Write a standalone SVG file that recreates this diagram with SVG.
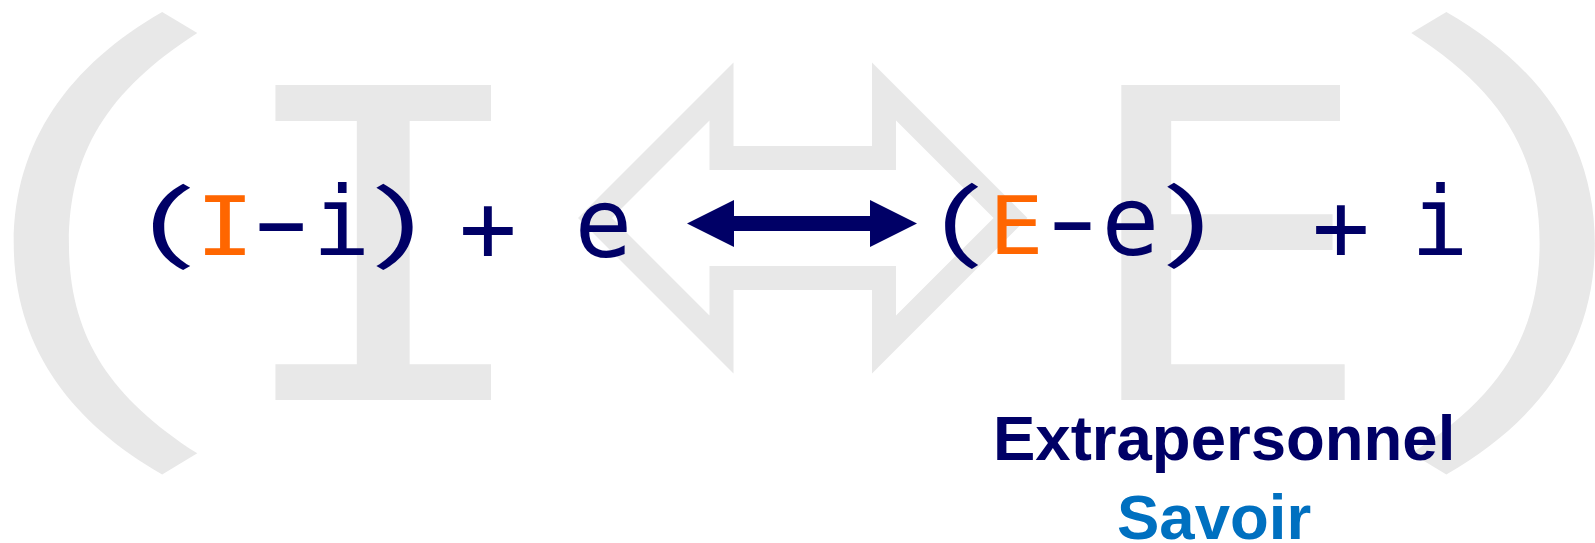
<svg xmlns="http://www.w3.org/2000/svg" width="1595" height="543" viewBox="0 0 1595 543">
<defs>
<style>
.m{font-family:"DejaVu Sans Mono",monospace;}
.p{font-family:"Noto Sans Mono CJK JP","DejaVu Sans Mono",monospace;}
.navy{fill:#000066;}
.orange{fill:#ff6600;}
.gray{fill:#e8e8e8;}
.lbl{font-family:"Liberation Sans",Arial,sans-serif;font-weight:bold;font-size:63.5px;}
.outline{fill:none;stroke:#e8e8e8;stroke-width:24;stroke-linejoin:miter;stroke-miterlimit:10;}
</style>
<marker id="head" markerUnits="userSpaceOnUse" markerWidth="47" markerHeight="47" refX="0" refY="23.5" orient="auto-start-reverse" viewBox="0 0 47 47"><path d="M0,0 L47,23.5 L0,47 Z" fill="#000066"/></marker>
</defs>
<rect width="1595" height="543" fill="#ffffff"/>
<g id="background">
<text class="p gray" font-size="456" transform="translate(-81.5,385) scale(1.48,1)">(</text>
<text class="m gray" font-size="432" text-anchor="middle" transform="translate(383.5,400) scale(1.233,1)">I</text>
<text class="m gray" font-size="432" transform="translate(1072.7,400) scale(1.17,1)">E</text>
<text class="p gray" font-size="456" transform="translate(1352.6,385) scale(1.48,1)">)</text>
</g>
<g id="connectors">
<polygon id="exchange-outline" class="outline" points="595,218 721.5,91.5 721.5,158 884,158 884,91.5 1010.5,218 884,344.5 884,278 721.5,278 721.5,344.5"/>
<line id="exchange-arrow" x1="734" y1="223.5" x2="870" y2="223.5" stroke="#000066" stroke-width="15" marker-start="url(#head)" marker-end="url(#head)"/>
</g>
<g id="expr-internal">
<text class="p navy" font-size="85" transform="translate(133.8,252.7) scale(1.61,1)">(</text>
<text class="m orange" font-size="81" transform="translate(195.6,255) scale(1.21,1)">I</text>
<text class="m navy" font-size="96" transform="translate(230.1,254) scale(1.77,1)">-</text>
<text class="m navy" font-size="96" x="312.6" y="255">i</text>
<text class="p navy" font-size="85" transform="translate(364.7,252.7) scale(1.57,1)">)</text>
<text class="m navy" font-size="96" x="459" y="261">+<tspan dy="-4"> e</tspan></text>
</g>
<g id="expr-external">
<text class="p navy" font-size="85" transform="translate(928,251.7) scale(1.43,1)">(</text>
<text class="m orange" font-size="80" transform="translate(988.7,254) scale(1.14,1)">E</text>
<text class="m navy" font-size="96" transform="translate(1030,253) scale(1.47,1)">-</text>
<text class="m navy" font-size="96" x="1101.5" y="255">e</text>
<text class="p navy" font-size="85" transform="translate(1156,251.7) scale(1.52,1)">)</text>
<text class="m navy" font-size="96" x="1312" y="260">+<tspan font-size="68"> </tspan><tspan dy="-5">i</tspan></text>
</g>
<g id="label-extrapersonnel">
<text class="lbl navy" x="993" y="460">Extrapersonnel</text>
<text class="lbl" x="1117" y="539" fill="#0070c0">Savoir</text>
</g>
</svg>
